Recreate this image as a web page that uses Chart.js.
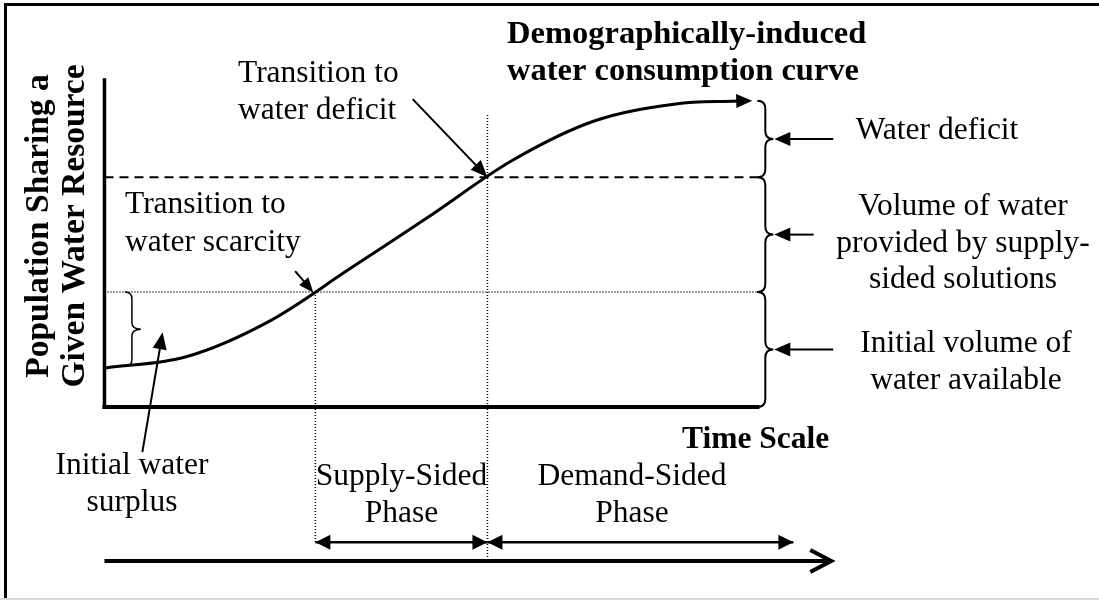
<!DOCTYPE html>
<html>
<head>
<meta charset="utf-8">
<script src="https://cdn.jsdelivr.net/npm/chart.js@4"></script>
<style>
  body { margin: 0; background: #fff; }
  canvas { display: block; }
</style>
</head>
<body>
<canvas id="chart" width="1099" height="600"></canvas>
<script>
// time runs 0..100 along the x-axis, population / water level 0..100 up the y-axis
const curveTime = [0, 12.5, 25, 37.5, 50, 62.5, 75, 87.5, 96.9];
const curveLevel = [11.9, 15.4, 26.0, 42.2, 58.7, 75.5, 87.5, 92.7, 93.6];

// initial water available, limit reached with supply-sided solutions
const thresholdLevels = [35.2, 70.3];
const curveTop = 93.7;

// phase boundaries on the time axis
const phaseStarts = [32.3, 58.65];
const phaseEnd = 105.5;
const timeArrowEnd = 111.3;
const phaseNames = [['Supply-Sided', 'Phase'], ['Demand-Sided', 'Phase']];

const braceNotes = [
    ['Water deficit'],
    ['Volume of water', 'provided by supply-', 'sided solutions'],
    ['Initial volume of', 'water available']
];

const FONT = "'Liberation Serif', 'Times New Roman', serif";
const PHASE_Y = -41.3;  // level of the phase arrows under the axis
const TIME_Y = -47.1;   // level of the long time arrow

function seg(x1, y1, x2, y2) {
    return [{ x: x1, y: y1 }, { x: x2, y: y2 }];
}

const line = (data, width, extra) => Object.assign({
    data: data,
    showLine: true,
    borderColor: '#000',
    borderWidth: width,
    pointRadius: 0,
    fill: false
}, extra || {});

const datasets = [
    line(curveTime.map((t, i) => ({ x: t, y: curveLevel[i] })), 3, { tension: 0.35 }),
    line(seg(0, 0, 0, 100), 3.5, { borderCapStyle: 'square' }),
    line(seg(0, 0, 100, 0), 4, { borderCapStyle: 'square' }),
    line(seg(0, thresholdLevels[1], 100, thresholdLevels[1]), 2, { borderDash: [9, 6] }),
    line(seg(0, thresholdLevels[0], 100, thresholdLevels[0]), 1.5, { borderDash: [1, 2] }),
    line(seg(phaseStarts[0], thresholdLevels[0], phaseStarts[0], PHASE_Y), 1.5, { borderDash: [1, 2] }),
    line(seg(phaseStarts[1], 89.3, phaseStarts[1], TIME_Y), 1.5, { borderDash: [1, 2] }),
    line(seg(phaseStarts[0], PHASE_Y, phaseStarts[1], PHASE_Y), 2.5),
    line(seg(phaseStarts[1], PHASE_Y, phaseEnd, PHASE_Y), 2.5),
    line(seg(0, TIME_Y, timeArrowEnd, TIME_Y), 4)
];

function head(ctx, tip, angle, len, half, open) {
    const bx = tip.x - len * Math.cos(angle), by = tip.y - len * Math.sin(angle);
    const nx = -Math.sin(angle) * half, ny = Math.cos(angle) * half;
    ctx.beginPath();
    ctx.moveTo(bx + nx, by + ny);
    ctx.lineTo(tip.x, tip.y);
    ctx.lineTo(bx - nx, by - ny);
    if (open) {
        ctx.stroke();
    } else {
        ctx.closePath();
        ctx.fill();
    }
}

// thin line with a filled head, head drawn at "to"
function pointer(ctx, from, to, width, len, half) {
    const a = Math.atan2(to.y - from.y, to.x - from.x);
    ctx.lineWidth = width;
    ctx.beginPath();
    ctx.moveTo(from.x, from.y);
    ctx.lineTo(to.x - (len - 2) * Math.cos(a), to.y - (len - 2) * Math.sin(a));
    ctx.stroke();
    head(ctx, to, a, len, half);
}

// curly brace opening to the left, tip pointing right
function brace(ctx, x, yTop, yBot, r, tip) {
    const ym = (yTop + yBot) / 2;
    ctx.beginPath();
    ctx.moveTo(x - r, yTop);
    ctx.quadraticCurveTo(x, yTop, x, yTop + r);
    ctx.lineTo(x, ym - r);
    ctx.quadraticCurveTo(x, ym, x + tip, ym);
    ctx.quadraticCurveTo(x, ym, x, ym + r);
    ctx.lineTo(x, yBot - r);
    ctx.quadraticCurveTo(x, yBot, x - r, yBot);
    ctx.stroke();
}

function lines(ctx, rows, x, y0, gap) {
    rows.forEach((r, i) => ctx.fillText(r, x, y0 + i * gap));
}

Chart.register({
    id: 'diagram',
    afterDatasetsDraw: (chart) => {
        const { ctx } = chart;
        const xs = chart.scales.x, ys = chart.scales.y;
        const P = (t, l) => ({ x: xs.getPixelForValue(t), y: ys.getPixelForValue(l) });

        ctx.save();
        ctx.fillStyle = '#000';
        ctx.strokeStyle = '#000';

        // outer frame (top and left only, bottom is a light rule)
        ctx.fillRect(5, 3, 1094, 3);
        ctx.fillRect(4, 3, 3, 596);
        ctx.fillStyle = '#d9d9d9';
        ctx.fillRect(0, 598, 1099, 2);
        ctx.fillStyle = '#000';

        // head of the consumption curve
        const n = curveTime.length;
        const last = P(curveTime[n - 1], curveLevel[n - 1]);
        const prev = P(curveTime[n - 2], curveLevel[n - 2]);
        const ca = Math.atan2(last.y - prev.y, last.x - prev.x) * 0.5;
        head(ctx, { x: last.x + 15 * Math.cos(ca), y: last.y + 15 * Math.sin(ca) }, ca, 16, 7);

        // phase arrows
        const s0 = P(phaseStarts[0], PHASE_Y), s1 = P(phaseStarts[1], PHASE_Y), s2 = P(phaseEnd, PHASE_Y);
        head(ctx, s0, Math.PI, 15, 7.5);
        head(ctx, s1, 0, 15, 7.5);
        head(ctx, s1, Math.PI, 15, 7.5);
        head(ctx, s2, 0, 15, 7.5);

        // time arrow, open head
        ctx.lineWidth = 4;
        ctx.lineJoin = 'miter';
        head(ctx, P(timeArrowEnd, TIME_Y), 0, 21, 11, true);

        // braces on the right of the plot
        const bx = P(101.2, 0).x;
        const bounds = [curveTop, thresholdLevels[1], thresholdLevels[0], 0].map(l => ys.getPixelForValue(l));
        ctx.lineWidth = 2;
        for (let i = 0; i < 3; i++) brace(ctx, bx, bounds[i], bounds[i + 1], 8, 8);

        // pointers into the braces
        const tails = [111.6, 108.6, 111.6];
        for (let i = 0; i < 3; i++) {
            const ym = (bounds[i] + bounds[i + 1]) / 2;
            pointer(ctx, { x: P(tails[i], 0).x, y: ym }, { x: bx + 9, y: ym }, 2, 16, 7);
        }

        // small surplus brace
        ctx.lineWidth = 1.5;
        brace(ctx, P(4.2, 0).x, P(0, thresholdLevels[0]).y, P(0, 12.4).y, 7, 9);

        // annotation pointers
        pointer(ctx, P(47.2, 94.2), P(phaseStarts[1], thresholdLevels[1]), 2, 17, 7);
        pointer(ctx, P(29.2, 41.6), P(32.0, 35.0), 2, 15, 6);
        pointer(ctx, P(5.8, -13.8), P(8.9, 22.9), 2, 17, 7);

        // text
        ctx.fillStyle = '#000';
        ctx.textBaseline = 'alphabetic';
        ctx.font = `31.5px ${FONT}`;
        ctx.textAlign = 'left';
        lines(ctx, ['Transition to', 'water deficit'], 238, 82, 36.5);
        lines(ctx, ['Transition to', 'water scarcity'], 125, 213, 38);

        ctx.textAlign = 'center';
        lines(ctx, braceNotes[0], 937, 139, 36.5);
        lines(ctx, braceNotes[1], 963, 215, 36.5);
        lines(ctx, braceNotes[2], 966, 352, 36.5);
        lines(ctx, ['Initial water', 'surplus'], 132, 474, 36.5);
        lines(ctx, phaseNames[0], (s0.x + s1.x) / 2, 485, 37);
        lines(ctx, phaseNames[1], 632, 485, 37);

        ctx.textAlign = 'left';
        ctx.font = `bold 32.5px ${FONT}`;
        lines(ctx, ['Demographically-induced', 'water consumption curve'], 507, 43, 37);
        ctx.font = `bold 31.5px ${FONT}`;
        ctx.fillText('Time Scale', 682, 448);

        // y-axis title, rotated
        ctx.font = `bold 33.5px ${FONT}`;
        ctx.textAlign = 'center';
        ctx.save();
        ctx.translate(48, 226);
        ctx.rotate(-Math.PI / 2);
        ctx.fillText('Population Sharing a', 0, 0);
        ctx.fillText('Given Water Resource', 0, 36);
        ctx.restore();

        ctx.restore();
    }
});

new Chart(document.getElementById('chart'), {
    type: 'scatter',
    data: { datasets: datasets },
    options: {
        responsive: false,
        animation: false,
        layout: { padding: 0 },
        plugins: { legend: { display: false }, tooltip: { enabled: false } },
        scales: {
            x: { type: 'linear', display: false, min: -16, max: 152.3 },
            y: { type: 'linear', display: false, min: -59, max: 124.5 }
        }
    }
});
</script>
</body>
</html>
